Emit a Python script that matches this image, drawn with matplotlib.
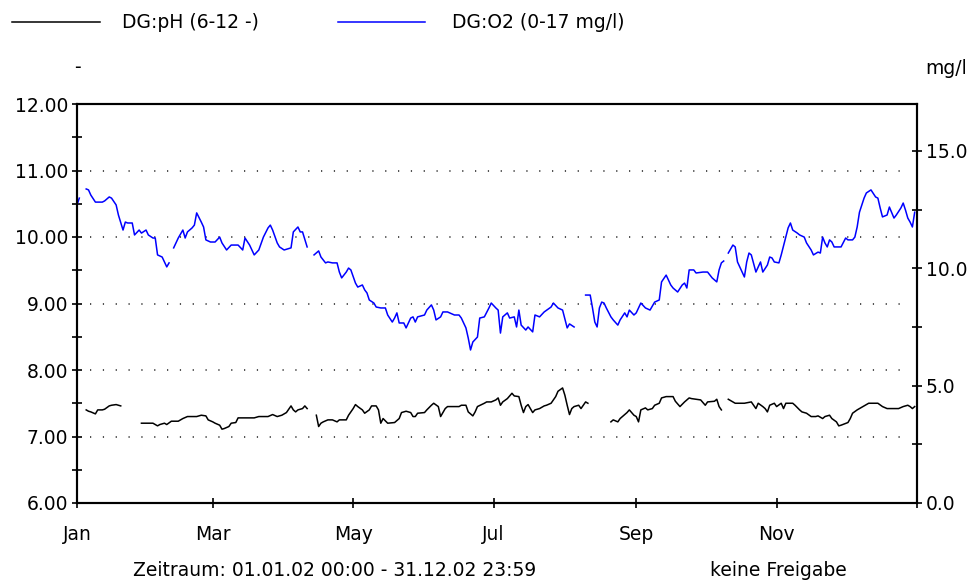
import numpy as np
import matplotlib.pyplot as plt
from matplotlib.lines import Line2D

plt.rcParams['font.family'] = ['DejaVu Sans']

# day of year (0 = 1 Jan 2002), nan marks a gap in the record
ph_days = [4, 5, 6, 8, 9, 11, 12, 14, 15, 17, 19, 20,
           28, 30, 33, 35, 36, 38, 39, 41, 44, 46, 48, 50, 52, 54, 56, 57, 59, 60, 62, 63, 64, 66, 67, 69,
           70, 72, 77, 79, 83, 85, 87, 89, 91, 93, 94, 95, 96, 98, 99, 100, 101,
           104, 105, 106, 107, 109, 111, 113, 114, 117, 118, 120, 121, 122, 124, 125, 127, 128, 130, 131,
           132, 133, 135, 138, 140, 141, 143, 145, 146, 147, 148, 151, 152, 154, 155, 157, 158, 160, 161,
           164, 166, 167, 169, 170, 172, 173, 174, 177, 178, 180, 182, 183, 184, 185, 187, 189, 190, 192,
           193, 194, 195, 196, 198, 199, 201, 203, 204, 206, 208, 209, 211, 212, 213, 214, 215, 216, 218,
           219, 221, 222, 223,
           232, 233, 235, 236, 238, 239, 240, 242, 243, 244, 245, 247, 248, 250, 251, 253, 254, 256, 259,
           260, 262, 264, 266, 267, 269, 271, 273, 274, 277, 278, 279, 280, 281,
           283, 285, 286, 288, 290, 293, 294, 295, 296, 298, 299, 300, 301, 303, 304, 306, 307, 308, 311,
           312, 314, 315, 317, 319, 321, 322, 324, 325, 327, 328, 330, 331, 332, 335, 336, 337, 339, 340,
           342, 344, 346, 348, 350, 352, 354, 357, 359, 361, 362, 363, 364]
ph_vals = [7.40, 7.38, 7.37, 7.34, 7.40, 7.40, 7.41, 7.46, 7.47, 7.48, 7.46, np.nan,
           7.20, 7.20, 7.20, 7.16, 7.18, 7.20, 7.18, 7.23, 7.23, 7.27, 7.30, 7.30, 7.30, 7.32, 7.31, 7.25,
           7.22, 7.20, 7.17, 7.11, 7.12, 7.15, 7.20, 7.21,
           7.28, 7.28, 7.28, 7.30, 7.30, 7.33, 7.30, 7.32, 7.36, 7.46, 7.40, 7.37, 7.40, 7.42, 7.46, 7.42, np.nan,
           7.32, 7.15, 7.20, 7.22, 7.25, 7.25, 7.22, 7.25, 7.25, 7.32, 7.42, 7.48, 7.45, 7.40, 7.35, 7.40,
           7.46, 7.46, 7.40,
           7.20, 7.27, 7.20, 7.21, 7.27, 7.36, 7.38, 7.36, 7.30, 7.30, 7.35, 7.36, 7.40, 7.47, 7.50, 7.45,
           7.30, 7.42, 7.45,
           7.45, 7.45, 7.47, 7.47, 7.37, 7.31, 7.37, 7.45, 7.50, 7.52, 7.52, 7.55, 7.58, 7.47, 7.52, 7.57,
           7.65, 7.61, 7.60,
           7.47, 7.36, 7.45, 7.48, 7.36, 7.40, 7.42, 7.46, 7.47, 7.50, 7.60, 7.68, 7.73, 7.62, 7.47, 7.33,
           7.42, 7.45, 7.47,
           7.42, 7.52, 7.50, np.nan,
           7.22, 7.25, 7.22, 7.27, 7.33, 7.36, 7.40, 7.32, 7.30, 7.22, 7.40, 7.43, 7.40, 7.42, 7.47, 7.50,
           7.58, 7.60, 7.60,
           7.53, 7.45, 7.52, 7.58, 7.57, 7.56, 7.55, 7.47, 7.52, 7.53, 7.56, 7.45, 7.40, np.nan,
           7.56, 7.52, 7.50, 7.50, 7.50, 7.52, 7.47, 7.42, 7.50, 7.45, 7.42, 7.37, 7.47, 7.50, 7.45, 7.50,
           7.42, 7.50, 7.50,
           7.47, 7.40, 7.37, 7.35, 7.30, 7.30, 7.31, 7.27, 7.30, 7.32, 7.27, 7.22, 7.16, 7.17, 7.21, 7.27,
           7.35, 7.40, 7.42,
           7.46, 7.50, 7.50, 7.50, 7.45, 7.42, 7.42, 7.42, 7.45, 7.47, 7.45, 7.42, 7.45]

o2_days = [0, 1, 2,
           4, 5, 6, 8, 11, 12, 14, 15, 17, 18, 20, 21, 22, 24, 25, 27, 28, 30, 31, 33, 34, 35, 37, 38, 39,
           40, 41,
           42, 44, 46, 47, 48, 50, 51, 52, 54, 55, 56, 58, 60, 62, 63, 65, 67, 69, 70, 72, 73, 75, 77, 79,
           81, 83, 84, 85, 87, 88, 90, 93, 94, 96, 97, 98, 100, 101,
           103, 105, 106, 108, 109, 111, 113, 114, 115, 117, 118, 119, 121, 122, 124, 125, 126, 127, 129,
           130, 132, 134, 135, 137, 138, 139, 140, 142, 143, 145, 146, 147, 148, 151, 152, 154, 155, 156,
           158, 159, 161, 164, 166, 167, 169, 170, 171, 172, 174, 175, 177, 179, 180, 182, 183, 184, 185,
           187, 188, 190, 191, 192, 193, 195, 196, 198, 199, 201, 203, 206, 207, 209, 211, 213, 214, 216,
           218,
           221, 223, 224, 225, 226, 227, 228, 229, 230, 232, 233, 235, 236, 238, 239, 240, 242, 243, 245,
           247, 249, 251, 253, 254, 256, 258, 259, 261, 263, 264, 265, 266, 268, 269, 272, 274, 276, 278,
           279, 280, 281, 282,
           283, 285, 286, 287, 289, 290, 291, 292, 293, 295, 296, 297, 298, 300, 301, 302, 303, 305, 306,
           308, 309, 310, 311, 313, 314, 316, 317, 319, 320, 322, 323, 324, 325, 326, 327, 328, 329, 331,
           332, 334, 335, 337, 338, 339, 340, 342, 343, 345, 347, 348, 349, 350, 352, 353, 355, 356, 358,
           359, 360, 361, 362, 363, 364]
o2_vals = [12.70, 12.99, np.nan,
           13.38, 13.34, 13.12, 12.82, 12.82, 12.87, 13.04, 12.99, 12.70, 12.27, 11.63, 11.97, 11.93, 11.93,
           11.42, 11.63, 11.50, 11.63, 11.42, 11.29, 11.29, 10.57, 10.48, 10.27, 10.06,
           10.23, np.nan,
           10.87, 11.29, 11.63, 11.29, 11.55, 11.72, 11.84, 12.36, 11.97, 11.76, 11.21, 11.12, 11.12, 11.33,
           11.08, 10.78, 10.99, 10.99, 10.99, 10.78, 11.29, 10.99, 10.57, 10.78,
           11.33, 11.72, 11.84, 11.63, 11.08, 10.91, 10.78, 10.87, 11.55, 11.76, 11.55, 11.55, 10.91, np.nan,
           10.57, 10.74, 10.48, 10.23, 10.27, 10.23, 10.23, 9.84, 9.59, 9.84, 10.01, 9.93, 9.37, 9.20, 9.29,
           9.08, 8.95, 8.65, 8.52,
           8.35, 8.31, 8.31, 8.01, 7.71, 7.88, 8.10, 7.67, 7.67, 7.46, 7.88, 7.93, 7.71, 7.93, 8.01, 8.22,
           8.44, 8.22, 7.80,
           7.93, 8.14, 8.14, 8.01, 8.01, 7.88, 7.46, 7.03, 6.52, 6.86, 7.07, 7.88, 7.93, 8.31, 8.52, 8.31,
           8.22, 7.24, 7.93,
           8.10, 7.88, 7.93, 7.50, 8.22, 7.58, 7.37, 7.50, 7.29, 8.01, 7.93, 8.14, 8.35, 8.52, 8.31, 8.22,
           7.46, 7.63, 7.50,
           np.nan,
           8.86, 8.86, 8.31, 7.71, 7.50, 8.31, 8.56, 8.52, 8.31, 7.93, 7.80, 7.58, 7.80, 8.10, 7.93, 8.22,
           8.01, 8.10, 8.52,
           8.31, 8.22, 8.56, 8.65, 9.42, 9.71, 9.29, 9.16, 8.99, 9.29, 9.37, 9.16, 9.93, 9.93, 9.80, 9.84,
           9.84, 9.59, 9.42,
           9.93, 10.23, 10.31, np.nan,
           10.65, 10.99, 10.91, 10.27, 9.84, 9.63, 10.27, 10.65, 10.57, 9.84, 10.06, 10.27, 9.84, 10.14,
           10.48, 10.44, 10.27, 10.23, 10.57,
           11.33, 11.72, 11.93, 11.63, 11.50, 11.42, 11.33, 11.08, 10.78, 10.57, 10.69, 10.65, 11.33, 11.08,
           10.91, 11.21, 11.12, 10.91, 10.91,
           10.91, 11.29, 11.21, 11.21, 11.33, 11.76, 12.39, 12.99, 13.21, 13.34, 13.04, 12.99, 12.57, 12.19,
           12.27, 12.61, 12.14, 12.27, 12.57,
           12.78, 12.48, 12.14, 11.97, 11.76, 12.39]

month_days = [0, 59, 120, 181, 243, 304]
month_labels = ['Jan', 'Mar', 'May', 'Jul', 'Sep', 'Nov']
ph_ticks = [6, 7, 8, 9, 10, 11, 12]
o2_ticks = [0, 5, 10, 15]

W, H = 970, 585
fig = plt.figure(figsize=(W / 100, H / 100), dpi=100)
ax = fig.add_axes([77 / W, 1 - 503 / H, 840 / W, 399 / H])
ax2 = ax.twinx()

# dotted horizontal grid at the inner pH ticks
for v in ph_ticks[1:-1]:
    ax.axhline(v, xmin=0.015, xmax=0.985, color='#202020', lw=1.1, ls=(0, (0.8, 7.6)))

ax.plot(ph_days, ph_vals, color='black', lw=1.1)
ax2.plot(o2_days, o2_vals, color='#0000ff', lw=1.1)

ax.set_xlim(0, 365)
ax.set_ylim(6, 12)
ax2.set_ylim(0, 17)

fs = 13.5
ax.set_xticks(month_days + [365])
ax.set_xticklabels(month_labels + [''], fontsize=fs)
ax.set_yticks(ph_ticks)
ax.set_yticklabels([f'{v:.2f}' for v in ph_ticks], fontsize=fs)
ax.set_yticks(np.arange(6.5, 12, 1.0), minor=True)
ax2.set_yticks(o2_ticks)
ax2.set_yticklabels([f'{v:.1f}' for v in o2_ticks], fontsize=fs)
ax2.set_yticks([2.5, 7.5, 12.5], minor=True)

for a in (ax, ax2):
    a.tick_params(which='both', direction='inout', length=7, width=1.2, colors='black')
    for s in a.spines.values():
        s.set_linewidth(1.5)
ax.tick_params(axis='y', pad=3)
ax.tick_params(axis='x', pad=12)
ax2.tick_params(axis='y', pad=3)

# legend drawn as in the original export
fig.add_artist(Line2D([12 / W, 100 / W], [1 - 22 / H] * 2, color='black', lw=1.1))
fig.text(122 / W, 1 - 22 / H, 'DG:pH (6-12 -)', fontsize=fs, va='center')
fig.add_artist(Line2D([338 / W, 425 / W], [1 - 22 / H] * 2, color='#0000ff', lw=1.1))
fig.text(452 / W, 1 - 22 / H, 'DG:O2 (0-17 mg/l)', fontsize=fs, va='center')

fig.text(77 / W, 1 - 68 / H, '-', fontsize=fs, va='center', ha='center')
fig.text(925 / W, 1 - 68 / H, 'mg/l', fontsize=fs, va='center')
fig.text(133 / W, 1 - 571 / H, 'Zeitraum: 01.01.02 00:00 - 31.12.02 23:59', fontsize=fs, va='center')
fig.text(710 / W, 1 - 571 / H, 'keine Freigabe', fontsize=fs, va='center')

fig.savefig('out.png', dpi=100, facecolor='white')
